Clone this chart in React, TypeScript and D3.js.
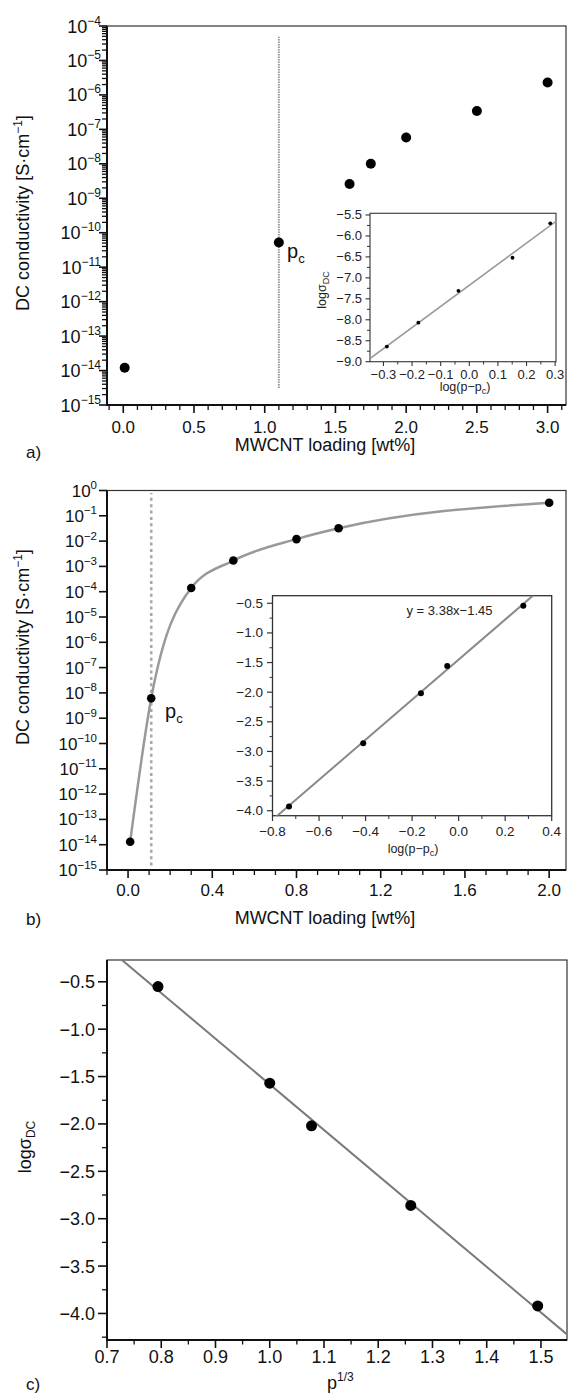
import React from 'react';
import * as d3 from 'd3';

const FONT = "'Liberation Sans', Arial, Helvetica, sans-serif";

// ---------- Panel a ----------
const aLoading = [0.01, 1.1, 1.6, 1.75, 2.0, 2.5, 3.0];
const aConductivity = [1.2e-14, 5.2e-11, 2.6e-9, 1.0e-8, 5.8e-8, 3.4e-7, 2.3e-6];
const aPc = 1.1;
const aPcLineExtent = [3.1e-15, 4.9e-5];
const aXTicks = [0, 0.5, 1.0, 1.5, 2.0, 2.5, 3.0];
const aXTickLabels = ['0.0', '0.5', '1.0', '1.5', '2.0', '2.5', '3.0'];
const aYExponents = [-15, -14, -13, -12, -11, -10, -9, -8, -7, -6, -5, -4];

const aInsetX = [-0.288, -0.178, -0.038, 0.151, 0.283];
const aInsetY = [-8.64, -8.07, -7.31, -6.52, -5.7];
const aInsetXTicks = [-0.3, -0.2, -0.1, 0.0, 0.1, 0.2, 0.3];
const aInsetXTickLabels = ['−0.3', '−0.2', '−0.1', '0.0', '0.1', '0.2', '0.3'];
const aInsetYTicks = [-9.0, -8.5, -8.0, -7.5, -7.0, -6.5, -6.0, -5.5];
const aInsetYTickLabels = ['−9.0', '−8.5', '−8.0', '−7.5', '−7.0', '−6.5', '−6.0', '−5.5'];

// ---------- Panel b ----------
const bLoading = [0.01, 0.11, 0.3, 0.5, 0.8, 1.0, 2.0];
const bConductivity = [1.3e-14, 6.1e-9, 1.4e-4, 1.7e-3, 1.2e-2, 3.2e-2, 0.33];
const bPc = 0.11;
const bPcLineExtent = [1.5e-15, 0.8];
const bXTicks = [0, 0.4, 0.8, 1.2, 1.6, 2.0];
const bXTickLabels = ['0.0', '0.4', '0.8', '1.2', '1.6', '2.0'];
const bYExponents = [-15, -14, -13, -12, -11, -10, -9, -8, -7, -6, -5, -4, -3, -2, -1, 0];

const bInsetX = [-0.729, -0.41, -0.162, -0.049, 0.278];
const bInsetY = [-3.93, -2.86, -2.02, -1.56, -0.54];
const bFitSlope = 3.38;
const bFitIntercept = -1.45;
const bInsetXTicks = [-0.8, -0.6, -0.4, -0.2, 0.0, 0.2, 0.4];
const bInsetXTickLabels = ['−0.8', '−0.6', '−0.4', '−0.2', '0.0', '0.2', '0.4'];
const bInsetYTicks = [-4.0, -3.5, -3.0, -2.5, -2.0, -1.5, -1.0, -0.5];
const bInsetYTickLabels = ['−4.0', '−3.5', '−3.0', '−2.5', '−2.0', '−1.5', '−1.0', '−0.5'];

// ---------- Panel c ----------
const cX = [0.794, 1.0, 1.077, 1.26, 1.494];
const cY = [-0.55, -1.57, -2.02, -2.86, -3.92];
const cXTicks = [0.7, 0.8, 0.9, 1.0, 1.1, 1.2, 1.3, 1.4, 1.5];
const cXTickLabels = ['0.7', '0.8', '0.9', '1.0', '1.1', '1.2', '1.3', '1.4', '1.5'];
const cYTicks = [-4.0, -3.5, -3.0, -2.5, -2.0, -1.5, -1.0, -0.5];
const cYTickLabels = ['−4.0', '−3.5', '−3.0', '−2.5', '−2.0', '−1.5', '−1.0', '−0.5'];

function linReg(xs: number[], ys: number[]) {
  const mx = d3.mean(xs) as number;
  const my = d3.mean(ys) as number;
  let sxy = 0, sxx = 0;
  xs.forEach((x, i) => { sxy += (x - mx) * (ys[i] - my); sxx += (x - mx) * (x - mx); });
  const slope = sxy / sxx;
  return { slope, intercept: my - slope * mx };
}

const near = (a: number, list: number[]) => list.some(v => Math.abs(v - a) < 1e-6);

export default function App() {
  // ===== Panel a =====
  const ax = d3.scaleLinear().domain([-0.115, 3.13]).range([107, 566]);
  const ay = d3.scaleLog().domain([1e-15, 1e-4]).range([405, 26]);
  const aMinorX = d3.range(-1, 32).map(i => i / 10).filter(v => !near(v, aXTicks));
  const aMinorY: number[] = [];
  aYExponents.slice(0, -1).forEach(e => { for (let k = 2; k <= 9; k++) aMinorY.push(k * Math.pow(10, e)); });

  const aix = d3.scaleLinear().domain([-0.347, 0.303]).range([370, 556]);
  const aiy = d3.scaleLinear().domain([-9.0, -5.46]).range([361.7, 213.3]);
  const aFit = linReg(aInsetX, aInsetY);
  const aFitXs = aix.domain();
  const aInsetMinorX = d3.range(-6, 7).map(i => i * 0.05).filter(v => !near(v, aInsetXTicks) && v > -0.347 && v < 0.303);
  const aInsetMinorY = d3.range(0, 15).map(i => -9 + i * 0.25).filter(v => !near(v, aInsetYTicks) && v < -5.46);

  // ===== Panel b =====
  const bx = d3.scaleLinear().domain([-0.1, 2.08]).range([107, 566]);
  const by = d3.scaleLog().domain([1e-15, 1]).range([870, 490.5]);
  const bMinorX = d3.range(-1, 21).map(i => i / 10).filter(v => !near(v, bXTicks));
  const bCurve = d3.line<number>()
    .x((_, i) => bx(bLoading[i]))
    .y(d => by(d))
    .curve(d3.curveMonotoneX)(bConductivity) as string;

  const bix = d3.scaleLinear().domain([-0.8, 0.4]).range([272.5, 551.7]);
  const biy = d3.scaleLinear().domain([-4.084, -0.372]).range([815.7, 595.7]);
  const bInsetMinorX = d3.range(-7, 4, 2).map(i => i / 10);
  const bInsetMinorY = d3.range(0, 7).map(i => -3.75 + i * 0.5);

  // ===== Panel c =====
  const cx = d3.scaleLinear().domain([0.7, 1.548]).range([107, 567]);
  const cy = d3.scaleLinear().domain([-4.28, -0.27]).range([1340, 960]);
  const cFit = linReg(cX, cY);
  const cMinorX = d3.range(0, 17).map(i => 0.75 + i * 0.1).filter(v => v < 1.548);
  const cMinorY = d3.range(0, 8).map(i => -4.25 + i * 0.5);

  const axisStroke = '#111';

  return (
    <svg width={568} height={1394} style={{ position: 'absolute', left: 0, top: 0, background: '#fff' }}
      fontFamily={FONT}>
      <defs>
        <clipPath id="clipAI"><rect x={370} y={213.3} width={186} height={148.4} /></clipPath>
        <clipPath id="clipBI"><rect x={272.5} y={595.7} width={279.2} height={220} /></clipPath>
        <clipPath id="clipC"><rect x={107} y={960} width={460} height={380} /></clipPath>
      </defs>
      <rect x={0} y={0} width={568} height={1394} fill="#fff" />

      {/* ================= PANEL A ================= */}
      <g>
        <rect x={107} y={26} width={459} height={379} fill="none" stroke="#333" strokeWidth={1.2} />
        {/* pc line */}
        <line x1={ax(aPc)} x2={ax(aPc)} y1={ay(aPcLineExtent[0])} y2={ay(aPcLineExtent[1])}
          stroke="#9a9a9a" strokeWidth={2} strokeDasharray="1.5,1" />
        {/* axes */}
        <line x1={107} x2={107} y1={26} y2={406} stroke={axisStroke} strokeWidth={2} />
        <line x1={106} x2={566} y1={405} y2={405} stroke={axisStroke} strokeWidth={2} />
        {aYExponents.map(e => (
          <g key={'ay' + e}>
            <line x1={99} x2={107} y1={ay(Math.pow(10, e))} y2={ay(Math.pow(10, e))} stroke={axisStroke} strokeWidth={1.6} />
            <text x={101} y={ay(Math.pow(10, e)) + 6.5} textAnchor="end" fontSize={18} fill="#111">
              10<tspan dy={-8} fontSize={12}>{e < 0 ? '−' + Math.abs(e) : String(e)}</tspan>
            </text>
          </g>
        ))}
        {aMinorY.map((v, i) => (
          <line key={'amy' + i} x1={102} x2={107} y1={ay(v)} y2={ay(v)} stroke={axisStroke} strokeWidth={1.3} />
        ))}
        {aXTicks.map((t, i) => (
          <g key={'ax' + i}>
            <line x1={ax(t)} x2={ax(t)} y1={405} y2={413} stroke={axisStroke} strokeWidth={1.6} />
            <text x={ax(t)} y={433} textAnchor="middle" fontSize={17} fill="#111">{aXTickLabels[i]}</text>
          </g>
        ))}
        {aMinorX.map((t, i) => (
          <line key={'amx' + i} x1={ax(t)} x2={ax(t)} y1={405} y2={410} stroke={axisStroke} strokeWidth={1.3} />
        ))}
        {aLoading.map((x, i) => (
          <circle key={'ap' + i} cx={ax(x)} cy={ay(aConductivity[i])} r={5} fill="#000" />
        ))}
        <text x={287} y={258} fontSize={20} fill="#111">p<tspan fontSize={13} dy={5}>c</tspan></text>
        <text x={325} y={451} textAnchor="middle" fontSize={18} fill="#111">MWCNT loading [wt%]</text>
        <text transform="translate(29,213) rotate(-90)" textAnchor="middle" fontSize={18} fill="#111">
          DC conductivity [S·cm<tspan dy={-7} fontSize={12}>−1</tspan><tspan dy={7}>]</tspan>
        </text>
        <text x={26} y={458} fontSize={17} fill="#111">a)</text>

        {/* inset a */}
        <rect x={370} y={213.3} width={186} height={148.4} fill="#fff" stroke="#444" strokeWidth={1.2} />
        <line clipPath="url(#clipAI)" x1={aix(aFitXs[0])} x2={aix(aFitXs[1])}
          y1={aiy(aFit.intercept + aFit.slope * aFitXs[0])} y2={aiy(aFit.intercept + aFit.slope * aFitXs[1])}
          stroke="#9a9a9a" strokeWidth={1.6} />
        {aInsetX.map((x, i) => (
          <circle key={'aip' + i} cx={aix(x)} cy={aiy(aInsetY[i])} r={1.9} fill="#000" />
        ))}
        {aInsetYTicks.map((t, i) => (
          <g key={'aiy' + i}>
            <line x1={365.5} x2={370} y1={aiy(t)} y2={aiy(t)} stroke="#333" strokeWidth={1.1} />
            <text x={362} y={aiy(t) + 4.5} textAnchor="end" fontSize={13} fill="#222">{aInsetYTickLabels[i]}</text>
          </g>
        ))}
        {aInsetMinorY.map((t, i) => (
          <line key={'aimy' + i} x1={367} x2={370} y1={aiy(t)} y2={aiy(t)} stroke="#333" strokeWidth={1} />
        ))}
        {aInsetXTicks.map((t, i) => (
          <g key={'aix' + i}>
            <line x1={aix(t)} x2={aix(t)} y1={361.7} y2={366} stroke="#333" strokeWidth={1.1} />
            <text x={aix(t)} y={379} textAnchor="middle" fontSize={13} fill="#222">{aInsetXTickLabels[i]}</text>
          </g>
        ))}
        {aInsetMinorX.map((t, i) => (
          <line key={'aimx' + i} x1={aix(t)} x2={aix(t)} y1={361.7} y2={364.5} stroke="#333" strokeWidth={1} />
        ))}
        <text x={465} y={391} textAnchor="middle" fontSize={12.5} fill="#222">
          log(p−p<tspan fontSize={9} dy={3}>c</tspan><tspan dy={-3}>)</tspan>
        </text>
        <text transform="translate(326,290) rotate(-90)" textAnchor="middle" fontSize={12.5} fill="#222">
          logσ<tspan fontSize={9} dy={3}>DC</tspan>
        </text>
      </g>

      {/* ================= PANEL B ================= */}
      <g>
        <rect x={107} y={490.5} width={459} height={379.5} fill="none" stroke="#333" strokeWidth={1.2} />
        <line x1={bx(bPc)} x2={bx(bPc)} y1={by(bPcLineExtent[0])} y2={by(bPcLineExtent[1])}
          stroke="#a8a8a8" strokeWidth={2.6} strokeDasharray="3,3.4" />
        <path d={bCurve} fill="none" stroke="#999" strokeWidth={2.5} />
        <line x1={107} x2={107} y1={490.5} y2={871} stroke={axisStroke} strokeWidth={2} />
        <line x1={106} x2={566} y1={870} y2={870} stroke={axisStroke} strokeWidth={2} />
        {bYExponents.map(e => (
          <g key={'by' + e}>
            <line x1={99} x2={107} y1={by(Math.pow(10, e))} y2={by(Math.pow(10, e))} stroke={axisStroke} strokeWidth={1.6} />
            <text x={97} y={by(Math.pow(10, e)) + 6} textAnchor="end" fontSize={17} fill="#111">
              10<tspan dy={-7.5} fontSize={11.5}>{e < 0 ? '−' + Math.abs(e) : String(e)}</tspan>
            </text>
          </g>
        ))}
        {bXTicks.map((t, i) => (
          <g key={'bx' + i}>
            <line x1={bx(t)} x2={bx(t)} y1={870} y2={878} stroke={axisStroke} strokeWidth={1.6} />
            <text x={bx(t)} y={896} textAnchor="middle" fontSize={17} fill="#111">{bXTickLabels[i]}</text>
          </g>
        ))}
        {bMinorX.map((t, i) => (
          <line key={'bmx' + i} x1={bx(t)} x2={bx(t)} y1={870} y2={875} stroke={axisStroke} strokeWidth={1.3} />
        ))}
        {bLoading.map((x, i) => (
          <circle key={'bp' + i} cx={bx(x)} cy={by(bConductivity[i])} r={4.3} fill="#000" />
        ))}
        <text x={165} y={718} fontSize={20} fill="#111">p<tspan fontSize={13} dy={5}>c</tspan></text>
        <text x={325} y={924} textAnchor="middle" fontSize={18} fill="#111">MWCNT loading [wt%]</text>
        <text transform="translate(29,647) rotate(-90)" textAnchor="middle" fontSize={18} fill="#111">
          DC conductivity [S·cm<tspan dy={-7} fontSize={12}>−1</tspan><tspan dy={7}>]</tspan>
        </text>
        <text x={26} y={925} fontSize={17} fill="#111">b)</text>

        {/* inset b */}
        <rect x={272.5} y={595.7} width={279.2} height={220} fill="#fff" stroke="#333" strokeWidth={1.3} />
        <line clipPath="url(#clipBI)" x1={bix(-0.8)} x2={bix(0.4)}
          y1={biy(bFitIntercept + bFitSlope * -0.8)} y2={biy(bFitIntercept + bFitSlope * 0.4)}
          stroke="#8a8a8a" strokeWidth={2} />
        {bInsetX.map((x, i) => (
          <circle key={'bip' + i} cx={bix(x)} cy={biy(bInsetY[i])} r={3} fill="#000" />
        ))}
        {bInsetYTicks.map((t, i) => (
          <g key={'biy' + i}>
            <line x1={267} x2={272.5} y1={biy(t)} y2={biy(t)} stroke="#333" strokeWidth={1.2} />
            <text x={263} y={biy(t) + 4.5} textAnchor="end" fontSize={13.5} fill="#222">{bInsetYTickLabels[i]}</text>
          </g>
        ))}
        {bInsetMinorY.map((t, i) => (
          <line key={'bimy' + i} x1={269.5} x2={272.5} y1={biy(t)} y2={biy(t)} stroke="#333" strokeWidth={1} />
        ))}
        {bInsetXTicks.map((t, i) => (
          <g key={'bix' + i}>
            <line x1={bix(t)} x2={bix(t)} y1={815.7} y2={821} stroke="#333" strokeWidth={1.2} />
            <text x={bix(t)} y={836} textAnchor="middle" fontSize={13.5} fill="#222">{bInsetXTickLabels[i]}</text>
          </g>
        ))}
        {bInsetMinorX.map((t, i) => (
          <line key={'bimx' + i} x1={bix(t)} x2={bix(t)} y1={815.7} y2={819} stroke="#333" strokeWidth={1} />
        ))}
        <text x={413} y={853} textAnchor="middle" fontSize={12.5} fill="#222">
          log(p−p<tspan fontSize={9} dy={3}>c</tspan><tspan dy={-3}>)</tspan>
        </text>
        <text x={406.5} y={615} fontSize={13} fill="#222">y = 3.38x−1.45</text>
      </g>

      {/* ================= PANEL C ================= */}
      <g>
        <rect x={107} y={960} width={460} height={380} fill="none" stroke="#333" strokeWidth={1.2} />
        <line clipPath="url(#clipC)" x1={cx(0.7)} x2={cx(1.548)}
          y1={cy(cFit.intercept + cFit.slope * 0.7)} y2={cy(cFit.intercept + cFit.slope * 1.548)}
          stroke="#7a7a7a" strokeWidth={2} />
        <line x1={107} x2={107} y1={960} y2={1341} stroke={axisStroke} strokeWidth={2} />
        <line x1={106} x2={567} y1={1340} y2={1340} stroke={axisStroke} strokeWidth={2} />
        {cYTicks.map((t, i) => (
          <g key={'cy' + i}>
            <line x1={98} x2={107} y1={cy(t)} y2={cy(t)} stroke={axisStroke} strokeWidth={1.6} />
            <text x={95} y={cy(t) + 6.5} textAnchor="end" fontSize={18} fill="#111">{cYTickLabels[i]}</text>
          </g>
        ))}
        {cMinorY.map((t, i) => (
          <line key={'cmy' + i} x1={102} x2={107} y1={cy(t)} y2={cy(t)} stroke={axisStroke} strokeWidth={1.3} />
        ))}
        {cXTicks.map((t, i) => (
          <g key={'cx' + i}>
            <line x1={cx(t)} x2={cx(t)} y1={1340} y2={1348} stroke={axisStroke} strokeWidth={1.6} />
            <text x={cx(t)} y={1363} textAnchor="middle" fontSize={18} fill="#111">{cXTickLabels[i]}</text>
          </g>
        ))}
        {cMinorX.map((t, i) => (
          <line key={'cmx' + i} x1={cx(t)} x2={cx(t)} y1={1340} y2={1344.5} stroke={axisStroke} strokeWidth={1.3} />
        ))}
        {cX.map((x, i) => (
          <circle key={'cp' + i} cx={cx(x)} cy={cy(cY[i])} r={5.5} fill="#000" />
        ))}
        <text x={327} y={1389} fontSize={18} fill="#111">p<tspan fontSize={12} dy={-8}>1/3</tspan></text>
        <text transform="translate(31,1147) rotate(-90)" textAnchor="middle" fontSize={18} fill="#111">
          logσ<tspan fontSize={12} dy={4}>DC</tspan>
        </text>
        <text x={26} y={1390} fontSize={17} fill="#111">c)</text>
      </g>
    </svg>
  );
}
